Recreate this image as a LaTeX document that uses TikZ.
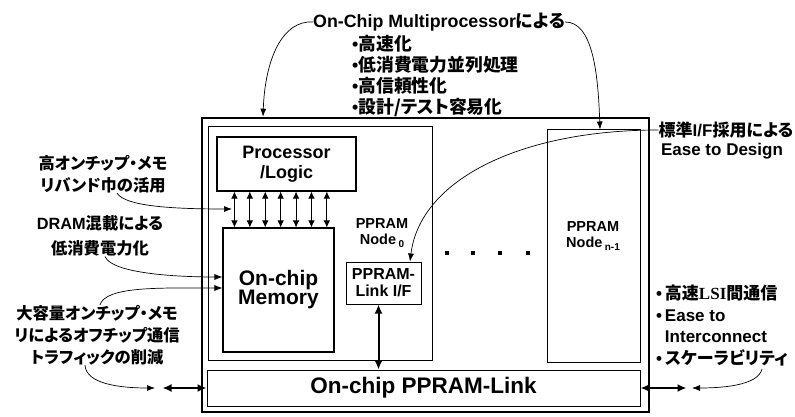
\documentclass[tikz,border=0pt]{standalone}
\usepackage{fontspec}
\setmainfont{Liberation Sans}
\newfontfamily\jp{Noto Sans CJK JP}[RawFeature={+palt}]
\newfontfamily\serifb{Liberation Serif}
\newcommand\J[1]{{\jp #1}}
\usetikzlibrary{arrows.meta,calc}
\begin{document}
\begin{tikzpicture}[x=1pt,y=-1pt,
  box/.style={draw, line width=1pt, inner sep=0pt},
  txt/.style={font=\bfseries, align=center, inner sep=0pt},
  thinarr/.style={line width=0.7pt, -{Latex[length=8pt,width=6pt]}},
  busarr/.style={line width=0.8pt, {Latex[length=7pt,width=6.5pt]}-{Latex[length=7pt,width=6.5pt]}},
  bigarr/.style={line width=2pt, {Latex[length=9pt,width=8pt]}-{Latex[length=9pt,width=8pt]}}
]
\useasboundingbox (0,0) rectangle (795,417);
\fill[white] (0,0) rectangle (795,417);

% boxes
\node[box, line width=2.6pt, minimum width=447pt, minimum height=294pt] (outer) at (425.5,265) {};
\node[box, minimum width=224pt, minimum height=233pt] (n0) at (320,243.5) {};
\node[box, line width=1.1pt, minimum width=139pt, minimum height=54pt, txt,
      font=\bfseries\fontsize{18}{20}\selectfont] (proc) at (286.5,164) {Processor\\/Logic};
\node[box, line width=1.1pt, minimum width=111pt, minimum height=124pt, txt,
      font=\bfseries\fontsize{21}{19}\selectfont] (mem) at (278.5,290) {On-chip\\Memory};
\node[box, minimum width=75pt, minimum height=42pt, txt,
      font=\bfseries\fontsize{16}{17}\selectfont] (if) at (383.5,283) {PPRAM-\\Link I/F};
\node[box, minimum width=93pt, minimum height=232pt] (nn) at (593.5,246) {};
\node[box, minimum width=433pt, minimum height=36pt, txt,
      font=\bfseries\fontsize{22.5}{22}\selectfont] (bar) at (423.5,388) {On-chip PPRAM-Link};

% node labels
\node[txt, font=\bfseries\fontsize{14.5}{16.5}\selectfont] (n0l) at (382,233)
  {PPRAM\\Node\,\raisebox{-3pt}{\fontsize{10}{10}\selectfont 0}};
\node[txt, font=\bfseries\fontsize{14.5}{16.5}\selectfont] (nnl) at (593,236)
  {PPRAM\\Node\,\raisebox{-3pt}{\fontsize{10}{10}\selectfont n-1}};

% dots
\foreach \x in {447,473,500,528} \fill (\x-2,251) rectangle (\x+2,255);

% bus arrows between processor and memory
\foreach \i in {0,...,6} {
  \path (proc.south west) ++(18+15.4*\i,0) coordinate (a\i);
  \draw[busarr] (a\i) -- (a\i |- mem.north);
}

% link I/F to bar
\path (if.south) ++(-5,0) coordinate (ifs);
\draw[bigarr] (ifs) -- (ifs |- bar.north);

% top text
\node[txt, anchor=west, font=\bfseries\fontsize{17.8}{20}\selectfont] (title) at (313,22)
  {On-Chip Multiprocessor\J{による}};
\node[txt, anchor=north west, align=left, font=\bfseries\fontsize{17.8}{21}\selectfont] (bul) at (352,35)
  {•\J{高速化}\\•\J{低消費電力並列処理}\\•\J{高信頼性化}\\•\J{設計/テスト容易化}};
\coordinate (c263) at (263,0);
\coordinate (c600) at (600,0);
\draw[thinarr] (title.west) .. controls (282,20) and (265,60) .. (outer.north -| c263);
\draw[thinarr] (title.east) .. controls (592,22) and (598,70) .. (nn.north -| c600);

% standard I/F label
\node[txt, font=\bfseries\fontsize{17}{20}\selectfont] (std1) at (726,130) {\J{標準}I/F\J{採用による}};
\node[txt, font=\bfseries\fontsize{17}{20}\selectfont] (std2) at (722,151) {Ease to Design};
\coordinate (c410) at (410,0);
\draw[thinarr] (std1.west) .. controls (520,130) and (420,180) .. (if.north -| c410);

% left labels
\node[txt, font=\bfseries\fontsize{16.3}{22}\selectfont] (lab1) at (103,174)
  {\J{高オンチップ・メモ}\\\J{リバンド巾の活用}};
\node[txt, font=\bfseries\fontsize{16.3}{25}\selectfont] (lab2) at (100,236)
  {DRAM\J{混載による}\\\J{低消費電力化}};
\node[txt, font=\bfseries\fontsize{16.3}{22}\selectfont] (lab3) at (97,335)
  {\J{大容量オンチップ・メモ}\\\J{リによるオフチップ通信}\\\J{トラフィックの削減}};

\coordinate (m1) at (232,209);
\draw[thinarr] ($(lab1.south)+(14,0)$) .. controls (125,206) and (170,209) .. (m1);
\draw[thinarr] ($(lab2.south)+(5,0)$) .. controls (112,274) and (180,277) .. ($(mem.west)+(0,-13)$);
\draw[thinarr] ($(lab3.north)+(3,0)$) .. controls (106,286) and (160,288) .. ($(mem.west)+(0,-2)$);
\coordinate (lt) at (155,388);
\draw[thinarr] ($(lab3.south)+(-12,0)$) .. controls (86,384) and (120,388) .. (lt);
\path (bar.west) ++(-44,0) coordinate (lda);
\draw[bigarr] (lda) -- (bar.west);

% right labels
\node[txt, anchor=north west, align=left, font=\bfseries\fontsize{17}{21.5}\selectfont] (rl) at (656,285)
  {•\,\J{高速}{\serifb LSI}\J{間通信}\\•\,Ease to\\\hphantom{•\,}Interconnect\\•\,\J{スケーラビリティ}};
\path (bar.east) ++(46,0) coordinate (rda);
\draw[bigarr] (bar.east) -- (rda);
\coordinate (rlc) at (762,369);
\coordinate (rt) at (692,388);
\draw[thinarr] (rlc) .. controls (758,386) and (720,388) .. (rt);
\end{tikzpicture}
\end{document}
